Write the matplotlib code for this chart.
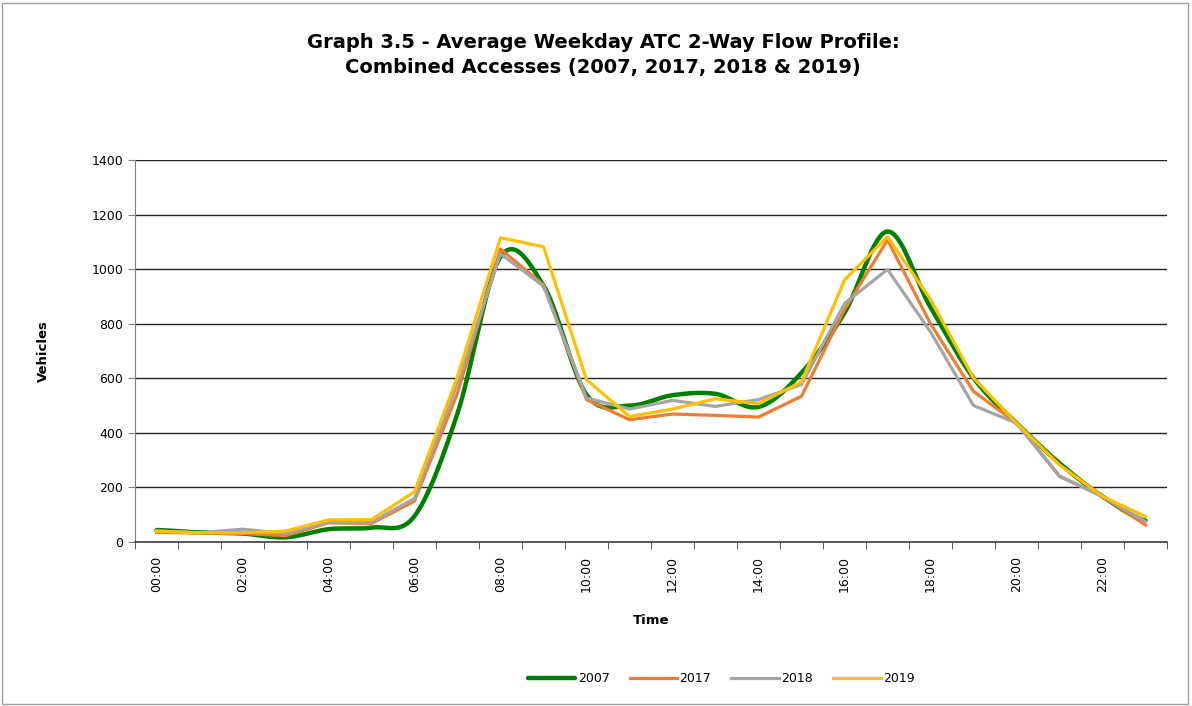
import numpy as np
import matplotlib
matplotlib.use("Agg")
import matplotlib.pyplot as plt
from matplotlib.patches import Rectangle

hours = ["{:02d}:00".format(h) for h in range(24)]

v2007 = [44, 35, 31, 17, 47, 53, 95, 472, 1045, 940, 540, 500, 538, 543, 495, 620,
         840, 1138, 860, 601, 436, 289, 167, 78]
v2017 = [35, 33, 31, 23, 70, 68, 150, 546, 1074, 942, 522, 448, 469, 464, 458, 534,
         852, 1107, 800, 552, 436, 242, 167, 62]
v2018 = [40, 34, 47, 31, 72, 72, 160, 582, 1056, 938, 528, 487, 519, 497, 522, 577,
         874, 999, 770, 500, 436, 240, 167, 75]
v2019 = [40, 34, 34, 40, 81, 82, 184, 606, 1115, 1082, 595, 460, 487, 525, 507, 587,
         960, 1119, 889, 601, 436, 283, 167, 93]

series = [("2007", v2007, "#008000", 3.2),
          ("2017", v2017, "#ED7D31", 2.3),
          ("2018", v2018, "#A5A5A5", 2.3),
          ("2019", v2019, "#FFC000", 2.3)]


def smooth(y, n=20):
    # catmull-rom through the points, like the excel "smoothed line" option
    y = np.asarray(y, float)
    p = np.concatenate([[y[0]], y, [y[-1]]])
    xs, ys = [], []
    for i in range(len(y) - 1):
        p0, p1, p2, p3 = p[i], p[i + 1], p[i + 2], p[i + 3]
        t = np.linspace(0, 1, n, endpoint=False)
        yy = 0.5 * (2 * p1 + (-p0 + p2) * t + (2 * p0 - 5 * p1 + 4 * p2 - p3) * t ** 2
                    + (-p0 + 3 * p1 - 3 * p2 + p3) * t ** 3)
        xs.extend(i + t)
        ys.extend(yy)
    xs.append(len(y) - 1)
    ys.append(y[-1])
    return np.array(xs), np.array(ys)


fig = plt.figure(figsize=(11.92, 7.06), dpi=100)
fig.patches.append(Rectangle((0.002, 0.003), 0.995, 0.993, transform=fig.transFigure,
                             fill=False, edgecolor="#a0a0a0", linewidth=1))
ax = fig.add_axes([135 / 1192, 1 - 542 / 706, (1167 - 135) / 1192, (542 - 160) / 706])

x = np.arange(len(hours))
for name, vals, col, lw in series:
    if name == "2007":
        sx, sy = smooth(vals)
        ax.plot(sx, sy, color=col, lw=lw, label=name, solid_capstyle="round", zorder=3)
    else:
        ax.plot(x, vals, color=col, lw=lw, label=name, zorder=4)

ax.set_xlim(-0.5, 23.5)
ax.set_ylim(0, 1400)
ax.set_yticks(range(0, 1401, 200))
ax.yaxis.grid(True, color="#222222", linewidth=1)
ax.set_axisbelow(True)
for s in ["top", "right"]:
    ax.spines[s].set_visible(False)
ax.spines["left"].set_color("#808080")
ax.spines["bottom"].set_color("#404040")
ax.spines["bottom"].set_linewidth(1.2)

ax.set_xticks(x[::2])
ax.set_xticklabels(hours[::2], rotation=90, fontsize=9)
ax.set_xticks(np.arange(-0.5, 24, 1), minor=True)
ax.tick_params(axis="x", which="major", length=0, pad=10)
ax.tick_params(axis="x", which="minor", length=5, color="#404040")
ax.tick_params(axis="y", length=5, color="#808080", labelsize=9)

ax.set_xlabel("Time", fontsize=9.5, fontweight="bold", labelpad=16)
ax.set_ylabel("Vehicles", fontsize=9.5, fontweight="bold", labelpad=30)

fig.text(0.506, 1 - 55 / 706,
         "Graph 3.5 - Average Weekday ATC 2-Way Flow Profile:\nCombined Accesses (2007, 2017, 2018 & 2019)",
         ha="center", va="center", fontsize=14, fontweight="bold", linespacing=1.4)

fig.legend(loc="center", bbox_to_anchor=(0.605, 1 - 679 / 706), ncol=4, frameon=False,
           fontsize=9, handlelength=3.8, columnspacing=1.6, handletextpad=0.2)

fig.savefig("out.png", dpi=100)
